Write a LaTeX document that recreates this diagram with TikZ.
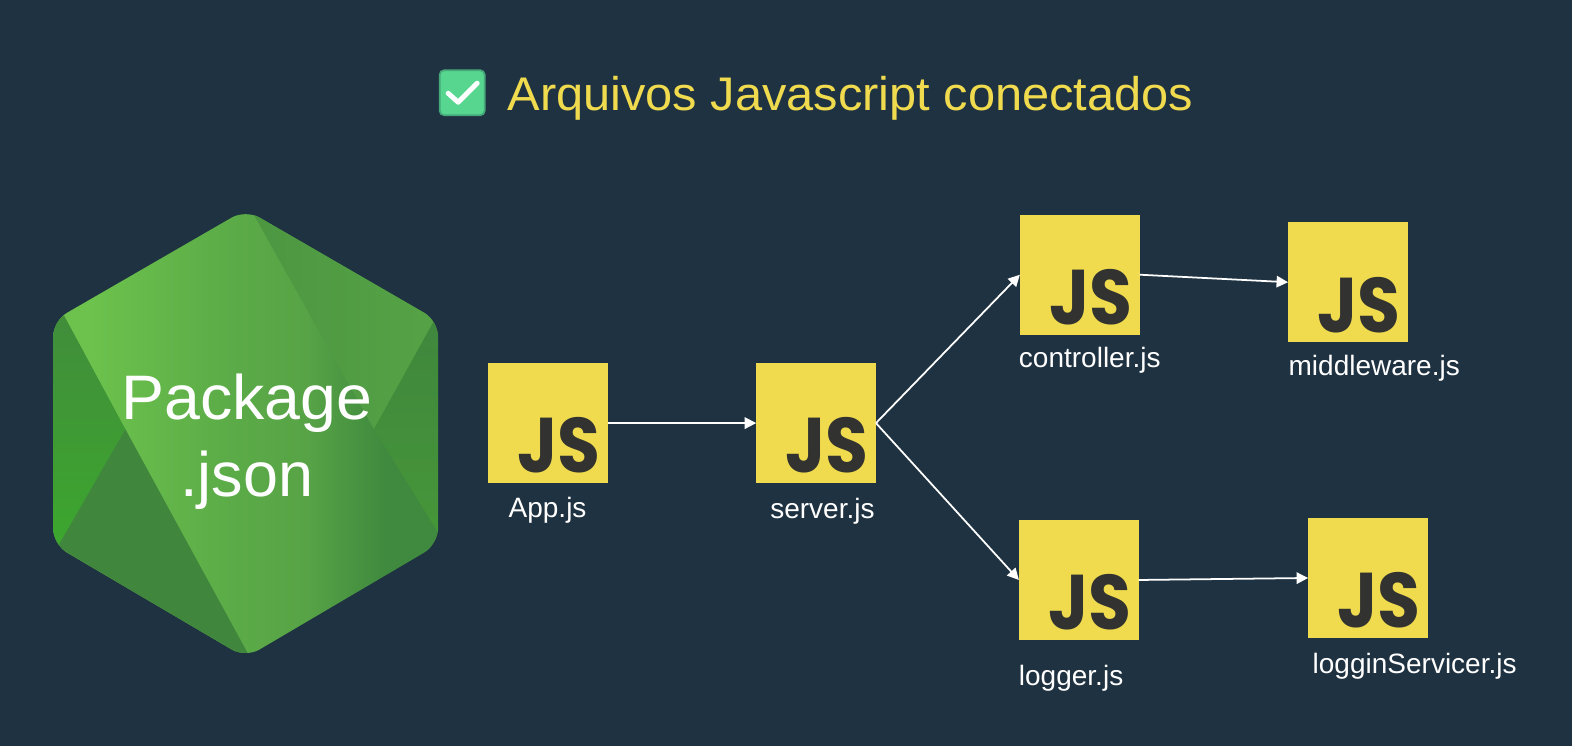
\documentclass[tikz,border=0pt]{standalone}
\usepackage{fontspec}
\setmainfont{Liberation Sans}
\newfontfamily\bigfont[Kerning=Off]{Liberation Sans}
\newfontfamily\jsfont{Poppins}
\usetikzlibrary{arrows.meta}
\definecolor{bgc}{HTML}{1F3241}
\definecolor{jsy}{HTML}{F0DB4F}
\definecolor{jsd}{HTML}{323330}
\definecolor{hA}{HTML}{6CC24C}
\definecolor{hC}{HTML}{5CAC48}
\definecolor{hD}{HTML}{57A346}
\definecolor{hE}{HTML}{3F8A3E}
\definecolor{trA}{HTML}{4C9641}
\definecolor{trB}{HTML}{56A346}
\definecolor{llD}{HTML}{40873D}
\definecolor{lfA}{HTML}{418C3B}
\definecolor{lfB}{HTML}{3CA72E}
\definecolor{rtA}{HTML}{3F873D}
\definecolor{rtB}{HTML}{469639}
\definecolor{ckG}{HTML}{57D68F}
\definecolor{ckD}{HTML}{46A97A}
\pgfdeclarehorizontalshading{mainface}{100bp}{
 color(0bp)=(hA); color(25bp)=(hA); color(30bp)=(hA); color(47bp)=(hC); color(58bp)=(hD); color(68bp)=(hE); color(75bp)=(hE); color(100bp)=(hE)}
\tikzset{
 x=0.02cm,y=-0.02cm,
 jsbox/.style={fill=jsy,draw=none,minimum width=68.0pt,minimum height=68.0pt,inner sep=0pt,outer sep=0pt},
 jstxt/.style={font=\jsfont\bfseries\fontsize{44}{44}\selectfont,text=jsd,inner sep=0pt,anchor=base east},
 lbl/.style={font=\fontsize{15.9}{18}\selectfont,text=white,inner sep=0pt,anchor=base west},
 big/.style={font=\bigfont\fontsize{35.7}{40}\selectfont,text=white,inner sep=0pt,anchor=base},
 conn/.style={draw=white,line width=1pt,-{Triangle[length=6.5pt,width=6.5pt]}},
}
\newcommand{\jsnode}[3]{\node[jsbox] (#1) at (#2,#3) {};
 \node[jstxt] (#1t) at ([shift={(-7,-10)}]#1.south east) {\scalebox{0.9}[1]{JS}};}
\begin{document}
\begin{tikzpicture}
\fill[bgc] (0,0) rectangle (1568,744);
\useasboundingbox (0,0) rectangle (1568,744);
% hexagon
\begin{scope}
\clip[rounded corners=9pt] (245,209) -- (437,320) -- (437,543) -- (245,656) -- (53,543) -- (53,320) -- cycle;
\shade[shading=mainface] (53,200) rectangle (437,660);
\shade[left color=trA,right color=trB] (248,205) -- (440,205) -- (440,315) -- (373,428) -- cycle;
\fill[llD] (125,428) -- (249,655) -- (249,660) -- (50,660) -- (50,550) -- cycle;
\shade[top color=lfA,bottom color=lfB] (50,305) -- (64,315) -- (125,428) -- (57,546) -- (50,546) -- cycle;
\shade[top color=rtA,bottom color=rtB] (434,318) -- (373,428) -- (440,536) -- (440,318) -- cycle;
\end{scope}
\node[big] (pk) at (246,418.5) {\scalebox{1.025}[1]{Package}};
\node[big] (js) at (246,495.5) {.json};
% title
\node[fill=ckG,draw=ckD,line width=1pt,rounded corners=2.5pt,minimum width=25.5pt,minimum height=25.5pt,inner sep=0pt] (ck) at (461,92.5) {};
\draw[white,line width=2.8pt,line cap=round,line join=round] (447,93) -- (457,102) -- (476,83);
\node[font=\fontsize{26.8}{30}\selectfont,text=jsy,inner sep=0pt,anchor=base west] (title) at (506,110) {\scalebox{1.033}[1]{Arquivos Javascript conectados}};
% js boxes
\jsnode{app}{546.5}{422}
\jsnode{srv}{814}{422}
\jsnode{ctl}{1077}{274}
\jsnode{mid}{1344.5}{281.5}
\jsnode{log}{1076}{578.5}
\jsnode{lgs}{1364.5}{576.5}
\node[lbl] (appl) at (507,516) {App.js};
\node[lbl] (srvl) at (768,517) {server.js};
\node[lbl] (ctll) at (1016,367) {controller.js};
\node[lbl] (midl) at (1285,375) {middleware.js};
\node[lbl] (logl) at (1016,684) {logger.js};
\node[lbl] (lgsl) at (1309,672) {logginServicer.js};
\draw[conn] (app.east) -- (srv.west);
\draw[conn] (srv.east) -- (ctl.west);
\draw[conn] (srv.east) -- (log.west);
\draw[conn] (ctl.east) -- (mid.west);
\draw[conn] (log.east) -- (lgs.west);
\end{tikzpicture}
\end{document}
